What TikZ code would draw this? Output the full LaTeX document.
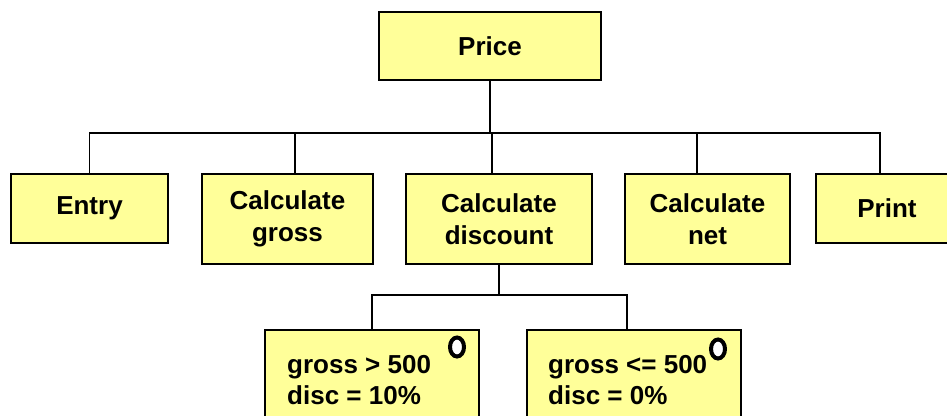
\documentclass[tikz,border=0pt]{standalone}
\usepackage{fontspec}
\setmainfont{Liberation Sans}
\usetikzlibrary{shapes.geometric}
\definecolor{boxyellow}{HTML}{FFFF99}
\tikzset{
  module/.style={draw=black, line width=2.2pt, fill=boxyellow, align=center,
    inner sep=0pt, font=\bfseries\fontsize{26}{32}\selectfont},
  cond/.style={anchor=base west, inner sep=0pt, font=\bfseries\fontsize{26}{31}\selectfont},
  link/.style={line width=1.5pt},
  selmark/.style={draw, ellipse, line width=4pt, fill=white,
    minimum width=14pt, minimum height=19pt, inner sep=0pt}
}
\begin{document}
\begin{tikzpicture}[x=1pt, y=-1pt]
    \clip (0,0) rectangle (947,415);

    % top and second level
    \node[module, minimum width=222pt, minimum height=68pt] (price) at (490,46) {Price};
    \coordinate (bus) at (491,133);

    \node[module, minimum width=157pt, minimum height=69pt] (entry) at (89.5,208.5) {Entry};
    \node[module, minimum width=171pt, minimum height=90pt] (gross) at (287.5,219) {Calculate\\gross};
    \node[module, minimum width=186pt, minimum height=90pt] (discount) at (499,219) {Calculate\\discount};
    \node[module, minimum width=165pt, minimum height=90pt] (net) at (707.5,219) {Calculate\\net};
    \node[module, minimum width=142pt, minimum height=69pt] (print) at (887,208.5) {Print};

    \draw[link] (price.south) -- (price.south |- bus);
    \draw[link] (entry.north) |- (bus);
    \draw[link] ([xshift=7.5pt]gross.north) |- (bus);
    \draw[link] ([xshift=-7pt]discount.north) |- (bus);
    \draw[link] ([xshift=-10.5pt]net.north) |- (bus);
    \draw[link] ([xshift=-7pt]print.north) |- (bus);

    % selection under discount
    \coordinate (subbus) at (499,295);
    \node[module, minimum width=214pt, minimum height=110pt] (big) at (372,385) {};
    \node[module, minimum width=214pt, minimum height=110pt] (small) at (634,385) {};

    \draw[link] (discount.south) -- (subbus);
    \draw[link] (big.north) |- (subbus);
    \draw[link] ([xshift=-7pt]small.north) |- (subbus);

    \node[cond] (bigcond) at (287,373) {gross > 500};
    \node[cond] (bigdisc) at (287,404) {disc = 10\%};
    \node[cond] (smallcond) at (548,373) {gross <= 500};
    \node[cond] (smalldisc) at (548,404) {disc = 0\%};

    \node[selmark] (bigsel) at (457,347) {};
    \node[selmark] (smallsel) at (718,349) {};
\end{tikzpicture}
\end{document}
